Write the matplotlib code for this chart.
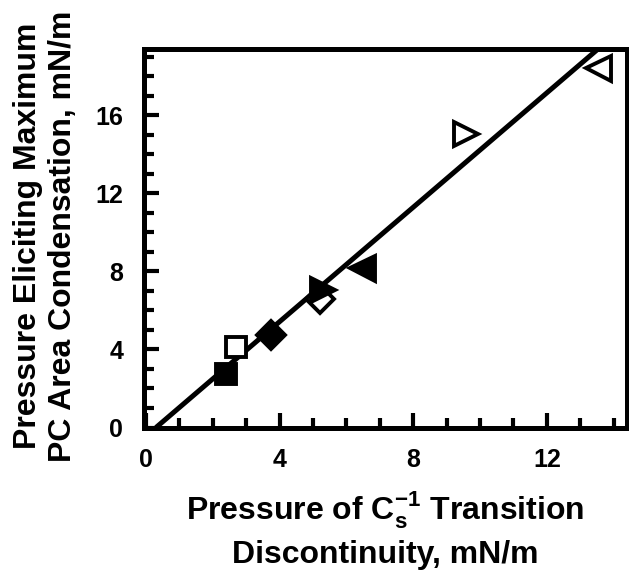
import matplotlib.pyplot as plt
import numpy as np

plt.rcParams['font.family'] = 'Liberation Sans'
plt.rcParams['font.weight'] = 'bold'
plt.rcParams['mathtext.fontset'] = 'custom'
plt.rcParams['mathtext.rm'] = 'Liberation Sans:bold'
plt.rcParams['mathtext.bf'] = 'Liberation Sans:bold'

# transition pressure (x) vs pressure of max condensation (y), one marker per system
x_vals = [2.40, 2.68, 3.73, 5.22, 5.30, 6.47, 9.57, 13.53]
y_vals = [2.75, 4.12, 4.72, 6.60, 7.05, 8.17, 15.06, 18.45]
markers = ['s', 's', 'D', 'D', '>', '<', '>', '<']
filled = [True, False, True, False, True, True, False, False]
sizes = [15, 15, 14, 14, 17, 18, 17, 18]

# linear fit line
fit_slope = 1.466
fit_x0 = 0.30

fig = plt.figure(figsize=(6.29, 5.71), dpi=100)
ax = fig.add_axes([0.2289, 0.2513, 0.7679, 0.6629])

xs = np.array([fit_x0, 14.0])
ax.plot(xs, fit_slope * (xs - fit_x0), color='k', lw=3.6, zorder=2,
        solid_capstyle='butt')

for x, y, m, f, s in zip(x_vals, y_vals, markers, filled, sizes):
    ax.plot(x, y, marker=m, ms=s, color='k',
            mfc='k' if f else 'white', mec='k', mew=2.8,
            linestyle='none', zorder=3)

ax.set_xlim(-0.06, 14.4)
ax.set_ylim(0, 19.4)
ax.set_xticks([0, 4, 8, 12])
ax.set_yticks([0, 4, 8, 12, 16])
ax.set_xticks(np.arange(0, 15, 1), minor=True)
ax.set_yticks(np.arange(0, 20, 1), minor=True)
ax.tick_params(which='both', direction='in', width=3, top=False, right=False,
               labelsize=18)
ax.tick_params(axis='x', pad=15)
ax.tick_params(axis='y', pad=15)
ax.tick_params(which='major', length=11)
ax.tick_params(which='minor', length=7)
for sp in ax.spines.values():
    sp.set_linewidth(3.6)

fig.text(0.045, 0.587, 'Pressure Eliciting Maximum', rotation=90,
         ha='center', va='center', fontsize=23, fontweight='bold')
fig.text(0.100, 0.587, 'PC Area Condensation, mN/m', rotation=90,
         ha='center', va='center', fontsize=23, fontweight='bold')
fig.text(0.613, 0.091, r'Pressure of C$_\mathrm{s}^\mathrm{-1}$ Transition',
         ha='center', va='baseline', fontsize=23, fontweight='bold')
fig.text(0.613, 0.014, 'Discontinuity, mN/m',
         ha='center', va='baseline', fontsize=23, fontweight='bold')

fig.savefig('out.png', dpi=100)
